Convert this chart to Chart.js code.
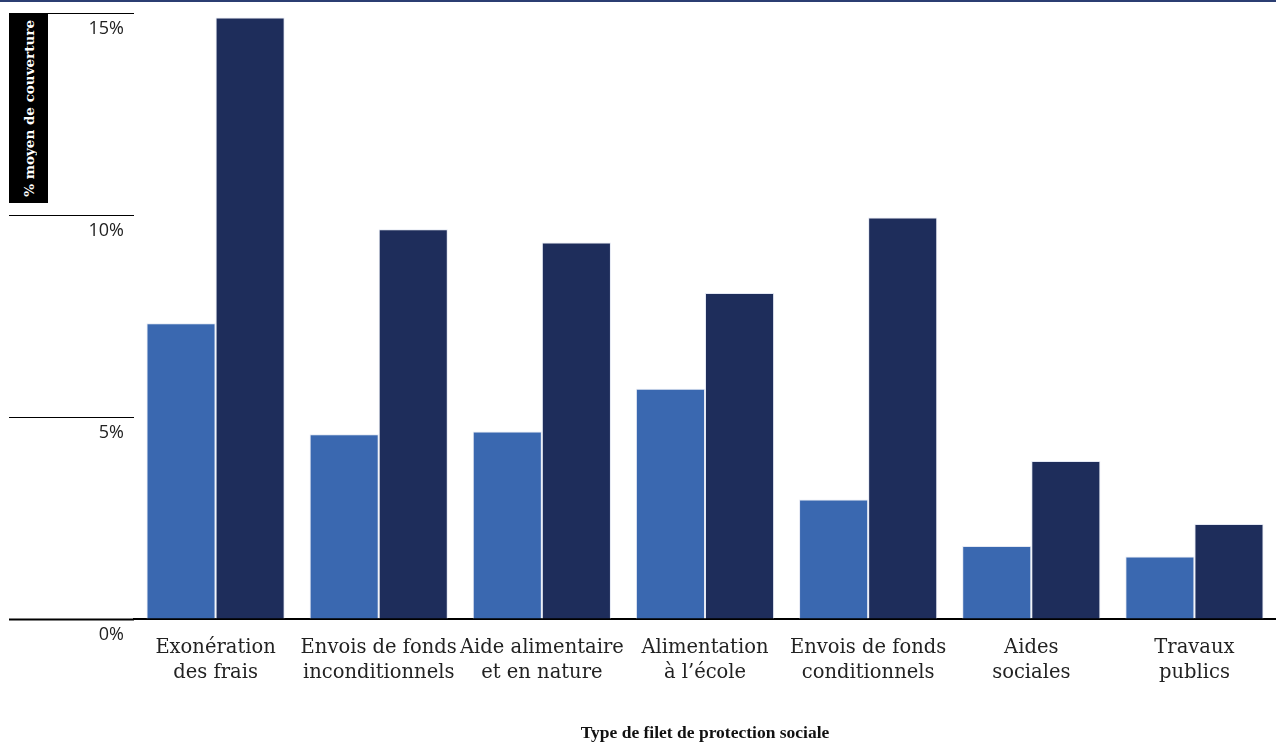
<!DOCTYPE html>
<html lang="fr">
<head>
<meta charset="utf-8">
<script src="https://cdn.jsdelivr.net/npm/chart.js@4/dist/chart.umd.min.js"></script>
<style>
    html, body { margin: 0; padding: 0; background: #fff; }
    .wrap { position: relative; width: 1276px; height: 742px; overflow: hidden; }
    .top-rule { position: absolute; left: 0; top: 0; width: 100%; height: 2px; background: #2b3e72; }
    .y-title {
        position: absolute; left: 9px; top: 13px; width: 39px; height: 190px;
        background: #000; color: #fff;
        display: flex; align-items: center; justify-content: center;
    }
    .y-title span {
        writing-mode: vertical-rl; transform: rotate(180deg);
        font: bold 13.5px "DejaVu Serif", serif; white-space: nowrap;
    }
    canvas { position: absolute; left: 0; top: 0; }
</style>
</head>
<body>
<div class="wrap">
    <canvas id="chart"></canvas>
    <div class="top-rule"></div>
    <div class="y-title"><span>% moyen de couverture</span></div>
</div>
<script>
// ── Données ─────────────────────────────────────────────────
const categories = [
    ['Exonération', 'des frais'],
    ['Envois de fonds', 'inconditionnels'],
    ['Aide alimentaire', 'et en nature'],
    ['Alimentation', 'à l’école'],
    ['Envois de fonds', 'conditionnels'],
    ['Aides', 'sociales'],
    ['Travaux', 'publics']
];
const valeursClaires = [7.32, 4.57, 4.64, 5.70, 2.96, 1.81, 1.55];
const valeursFoncees = [14.89, 9.65, 9.32, 8.07, 9.94, 3.91, 2.35];
const yTicks = [0, 5, 10, 15];

const BLEU_CLAIR = '#3a68b0';
const BLEU_FONCE = '#1e2d5b';
const SERIF = '"DejaVu Serif", serif';

// ── Graphique ───────────────────────────────────────────────
function initChart() {
    const canvas = document.getElementById('chart');
    const barStyle = {
        borderColor: 'rgba(225, 230, 242, 0.9)',
        borderWidth: { top: 1, left: 1, right: 1, bottom: 0 },
        borderSkipped: 'bottom',
        categoryPercentage: 0.847,
        barPercentage: 1.0
    };

    new Chart(canvas, {
        type: 'bar',
        data: {
            labels: categories,
            datasets: [
                { label: 'Série 1', data: valeursClaires, backgroundColor: BLEU_CLAIR, ...barStyle },
                { label: 'Série 2', data: valeursFoncees, backgroundColor: BLEU_FONCE, ...barStyle }
            ]
        },
        options: {
            responsive: true,
            maintainAspectRatio: false,
            animation: false,
            layout: { padding: { left: 9, top: 13, right: 0, bottom: 0 } },
            plugins: {
                legend: { display: false },
                tooltip: { enabled: false }
            },
            scales: {
                x: {
                    grid: { display: false, drawTicks: false },
                    border: { display: true, color: '#000', width: 2 },
                    ticks: {
                        color: '#222',
                        padding: 16,
                        maxRotation: 0,
                        autoSkip: false,
                        font: { family: SERIF, size: 19.5, lineHeight: 1.28 }
                    },
                    title: {
                        display: true,
                        text: 'Type de filet de protection sociale',
                        color: '#111',
                        font: { family: '"Liberation Serif", serif', size: 17.5, weight: 'bold' },
                        padding: { top: 0, bottom: -2 }
                    },
                    afterFit: s => { s.height = 123; }
                },
                y: {
                    min: 0,
                    max: 15,
                    afterBuildTicks: s => { s.ticks = yTicks.map(v => ({ value: v })); },
                    grid: {
                        drawOnChartArea: false,
                        drawTicks: true,
                        tickLength: 125,
                        tickColor: '#000',
                        tickWidth: ctx => (ctx.index === 0 ? 2 : 1)
                    },
                    border: { display: false },
                    ticks: {
                        padding: -115,
                        labelOffset: 16,
                        color: '#222',
                        font: { family: '"Open Sans", sans-serif', size: 18 },
                        callback: v => v + '%'
                    },
                    afterFit: s => { s.width = 125; }
                }
            }
        }
    });
}

document.addEventListener('DOMContentLoaded', initChart);
</script>
</body>
</html>
